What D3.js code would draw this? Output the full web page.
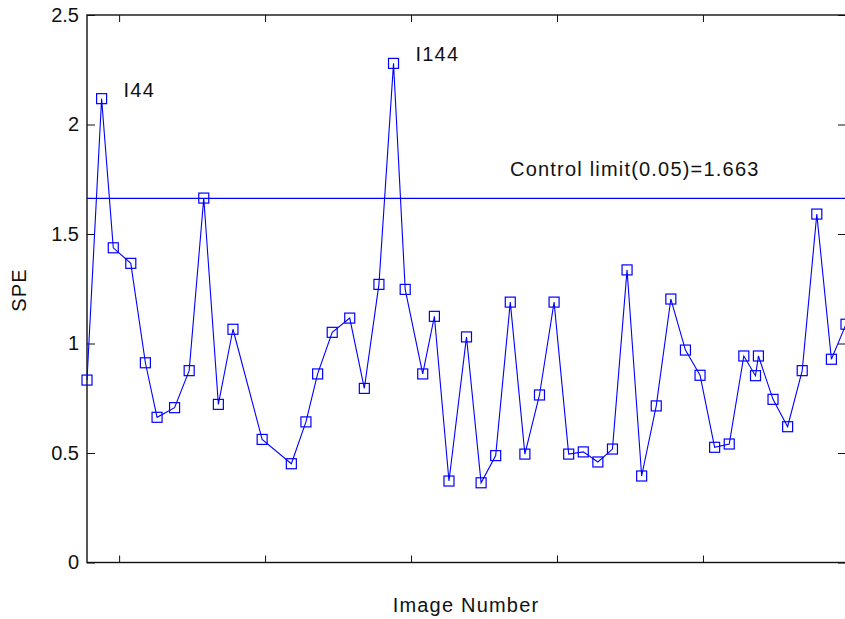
<!DOCTYPE html>
<html>
<head>
<meta charset="utf-8">
<script src="https://cdn.jsdelivr.net/npm/d3@7"></script>
<style>
  body { margin: 0; background: #fff; }
  svg text { font-family: "Liberation Sans", Arial, Helvetica, sans-serif; fill: #111; }
</style>
</head>
<body>
<svg id="chart"></svg>
<script>
// image numbers (x) and SPE values (y)
const imageNumbers = [39, 44, 48, 54, 59, 63, 69, 74, 79, 84, 89, 99, 109, 114, 118, 123, 129, 134, 139, 144,
  148, 154, 158, 163, 169, 174, 179, 184, 189, 194, 199, 204, 209, 214, 219, 224, 229, 234, 239, 244,
  249, 254, 259, 264, 268, 269, 274, 279, 284, 289, 294, 299];
const speValues = [0.833, 2.118, 1.437, 1.366, 0.912, 0.663, 0.707, 0.876, 1.664, 0.722, 1.065, 0.562, 0.451, 0.642,
  0.861, 1.051, 1.116, 0.795, 1.270, 2.279, 1.247, 0.861, 1.124, 0.372, 1.030, 0.364, 0.488, 1.189, 0.495, 0.765,
  1.189, 0.495, 0.505, 0.459, 0.518, 1.336, 0.395, 0.715, 1.203, 0.970, 0.855, 0.526, 0.541, 0.943, 0.853, 0.943,
  0.745, 0.620, 0.876, 1.591, 0.928, 1.088];
const controlLimit = 1.663;
const yTicks = [0, 0.5, 1, 1.5, 2, 2.5];
const xTicks = [50, 100, 150, 200, 250, 300];
const annotations = [
  { label: "I44", idx: 1 },
  { label: "I144", idx: 19 }
];

const width = 845, height = 619;
const margin = { top: 15, right: -1, bottom: 57, left: 87 };
const fontSize = "20px";

const svg = d3.select("#chart").attr("width", width).attr("height", height);

const x = d3.scaleLinear().domain([39, 299]).range([margin.left, width - margin.right]);
const y = d3.scaleLinear().domain([0, 2.5]).range([height - margin.bottom + 0.5, margin.top]);

const data = imageNumbers.map((n, i) => ({ n, v: speValues[i] }));

// clip the plot so the last marker is cut like the original
svg.append("clipPath").attr("id", "plot")
  .append("rect")
  .attr("x", margin.left - 8).attr("y", 0)
  .attr("width", width).attr("height", height);

// axes box
const axisColor = "#111";
const x0 = x.range()[0], x1 = x.range()[1], y0 = y(0), y1 = y(2.5);
svg.append("rect")
  .attr("x", x0).attr("y", y1)
  .attr("width", x1 - x0).attr("height", y0 - y1)
  .attr("fill", "none").attr("stroke", axisColor).attr("stroke-width", 1.4);

// y ticks (left and right, pointing in)
svg.append("g")
  .attr("transform", `translate(${x0},0)`)
  .call(d3.axisLeft(y).tickValues(yTicks).tickSize(-8).tickPadding(8).tickFormat(d3.format("")))
  .call(g => g.select(".domain").remove())
  .call(g => g.selectAll("line").attr("stroke", axisColor))
  .call(g => g.selectAll("text").style("font-size", fontSize).attr("fill", "#111"));

svg.append("g")
  .attr("transform", `translate(${x1},0)`)
  .call(d3.axisRight(y).tickValues(yTicks).tickSize(-8).tickFormat(""))
  .call(g => g.select(".domain").remove())
  .call(g => g.selectAll("line").attr("stroke", axisColor));

// x ticks (bottom and top, no labels)
svg.append("g")
  .attr("transform", `translate(0,${y0})`)
  .call(d3.axisBottom(x).tickValues(xTicks.filter(t => t <= 299)).tickSize(-7).tickFormat(""))
  .call(g => g.select(".domain").remove())
  .call(g => g.selectAll("line").attr("stroke", axisColor));

svg.append("g")
  .attr("transform", `translate(0,${y1})`)
  .call(d3.axisTop(x).tickValues(xTicks.filter(t => t <= 299)).tickSize(-7).tickFormat(""))
  .call(g => g.select(".domain").remove())
  .call(g => g.selectAll("line").attr("stroke", axisColor));

// control limit
svg.append("line")
  .attr("x1", x0).attr("x2", x1)
  .attr("y1", y(controlLimit)).attr("y2", y(controlLimit))
  .attr("stroke", "#0000ff").attr("stroke-width", 1.2);

svg.append("text")
  .attr("x", 510).attr("y", y(controlLimit) - 22)
  .style("font-size", fontSize).style("letter-spacing", "1.2px")
  .text(`Control limit(0.05)=${controlLimit}`);

// SPE series
const plot = svg.append("g").attr("clip-path", "url(#plot)");

plot.append("path")
  .datum(data)
  .attr("fill", "none")
  .attr("stroke", "#0000ff")
  .attr("stroke-width", 1.1)
  .attr("d", d3.line().x(d => x(d.n)).y(d => y(d.v)));

plot.selectAll("rect.mk")
  .data(data)
  .join("rect")
  .attr("class", "mk")
  .attr("x", d => x(d.n) - 5)
  .attr("y", d => y(d.v) - 5)
  .attr("width", 10).attr("height", 10)
  .attr("fill", "none")
  .attr("stroke", "#0000ff")
  .attr("stroke-width", 1.2);

// outlier labels
svg.selectAll("text.ann")
  .data(annotations)
  .join("text")
  .attr("class", "ann")
  .attr("x", d => x(data[d.idx].n) + 22)
  .attr("y", d => y(data[d.idx].v) - 2)
  .style("font-size", fontSize).style("letter-spacing", "1.2px")
  .text(d => d.label);

// axis titles
svg.append("text")
  .attr("x", 466).attr("y", 612)
  .attr("text-anchor", "middle")
  .style("font-size", fontSize).style("letter-spacing", "1.2px")
  .text("Image Number");

svg.append("text")
  .attr("transform", "translate(26,290) rotate(-90)")
  .attr("text-anchor", "middle")
  .style("font-size", fontSize).style("letter-spacing", "1.2px")
  .text("SPE");
</script>
</body>
</html>
